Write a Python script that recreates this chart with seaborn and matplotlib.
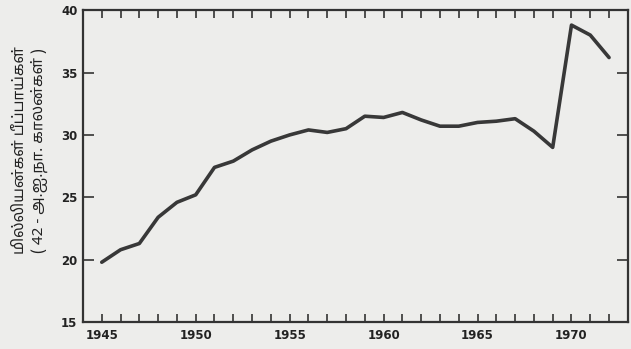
import matplotlib
matplotlib.use("Agg")
import matplotlib.pyplot as plt
import seaborn as sns
import pandas as pd
from matplotlib import font_manager
from matplotlib.ft2font import FT2Font

years = list(range(1945, 1973))
values = [19.8, 20.8, 21.3, 23.4, 24.6, 25.2, 27.4, 27.9, 28.8, 29.5,
          30.0, 30.4, 30.2, 30.5, 31.5, 31.4, 31.8, 31.2, 30.7, 30.7,
          31.0, 31.1, 31.3, 30.3, 29.0, 38.8, 38.0, 36.2]
x_tick_labels = ["1945", "1950", "1955", "1960", "1965", "1970"]
y_ticks = [15, 20, 25, 30, 35, 40]
ylabel_line1 = "மில்லியன்கள் பீப்பாய்கள்"
ylabel_line2 = "( 42 - அ.ஐ.நா. காலன்கள் )"

# find a font able to draw Tamil
found = []
for f in font_manager.fontManager.ttflist:
    try:
        cm = FT2Font(f.fname).get_charmap()
        if 0x0BAE in cm:
            found.append(f.name)
    except Exception:
        pass
tamil_font = None
for pref in ["Noto Sans Tamil", "Hind Madurai", "Catamaran", "Anek Tamil",
             "Karla Tamil", "FreeSans"]:
    if pref in found:
        tamil_font = pref
        break
if tamil_font is None:
    others = [n for n in found if n != "Unifont"]
    tamil_font = others[0] if others else (found[0] if found else None)

sns.set_theme(style="ticks")
plt.rcParams['font.family'] = ['DejaVu Sans']

bg = "#ededeb"
fig = plt.figure(figsize=(6.31, 3.49), dpi=100, facecolor=bg)
ax = fig.add_axes([0.1315, 0.077, 0.8635, 0.894])
ax.set_facecolor(bg)

df = pd.DataFrame({"year": years, "value": values})
sns.lineplot(data=df, x="year", y="value", ax=ax, color="#383838", linewidth=2.6)

ax.set_xlim(1944, 1973)
ax.set_ylim(15, 40)
ax.set_xticks([int(t) for t in x_tick_labels])
ax.set_xticklabels(x_tick_labels)
ax.set_xticks(years, minor=True)
ax.set_yticks(y_ticks)
ax.set_yticklabels([str(t) for t in y_ticks])
ax.tick_params(axis="x", which="both", direction="in", top=True, bottom=True,
               length=6, width=1.2, color="#333333", pad=5)
ax.tick_params(axis="y", direction="in", left=True, right=True,
               length=8, width=1.2, color="#333333", pad=4)
for lab in ax.get_xticklabels() + ax.get_yticklabels():
    lab.set_fontweight("bold")
    lab.set_fontsize(8.5)
    lab.set_color("#222222")
for s in ax.spines.values():
    s.set_visible(True)
    s.set_linewidth(1.6)
    s.set_color("#333333")
ax.set_xlabel("")
ax.set_ylabel("")

fam = [tamil_font, "DejaVu Sans"] if tamil_font else ["DejaVu Sans"]
fig.text(0.032, 0.57, ylabel_line1, rotation=90, ha="center", va="center",
         fontsize=11, fontweight="bold", family=fam, color="#222222")
fig.text(0.062, 0.57, ylabel_line2, rotation=90, ha="center", va="center",
         fontsize=11, fontweight="bold", family=fam, color="#222222")

fig.savefig("out.png", dpi=100, facecolor=bg)
